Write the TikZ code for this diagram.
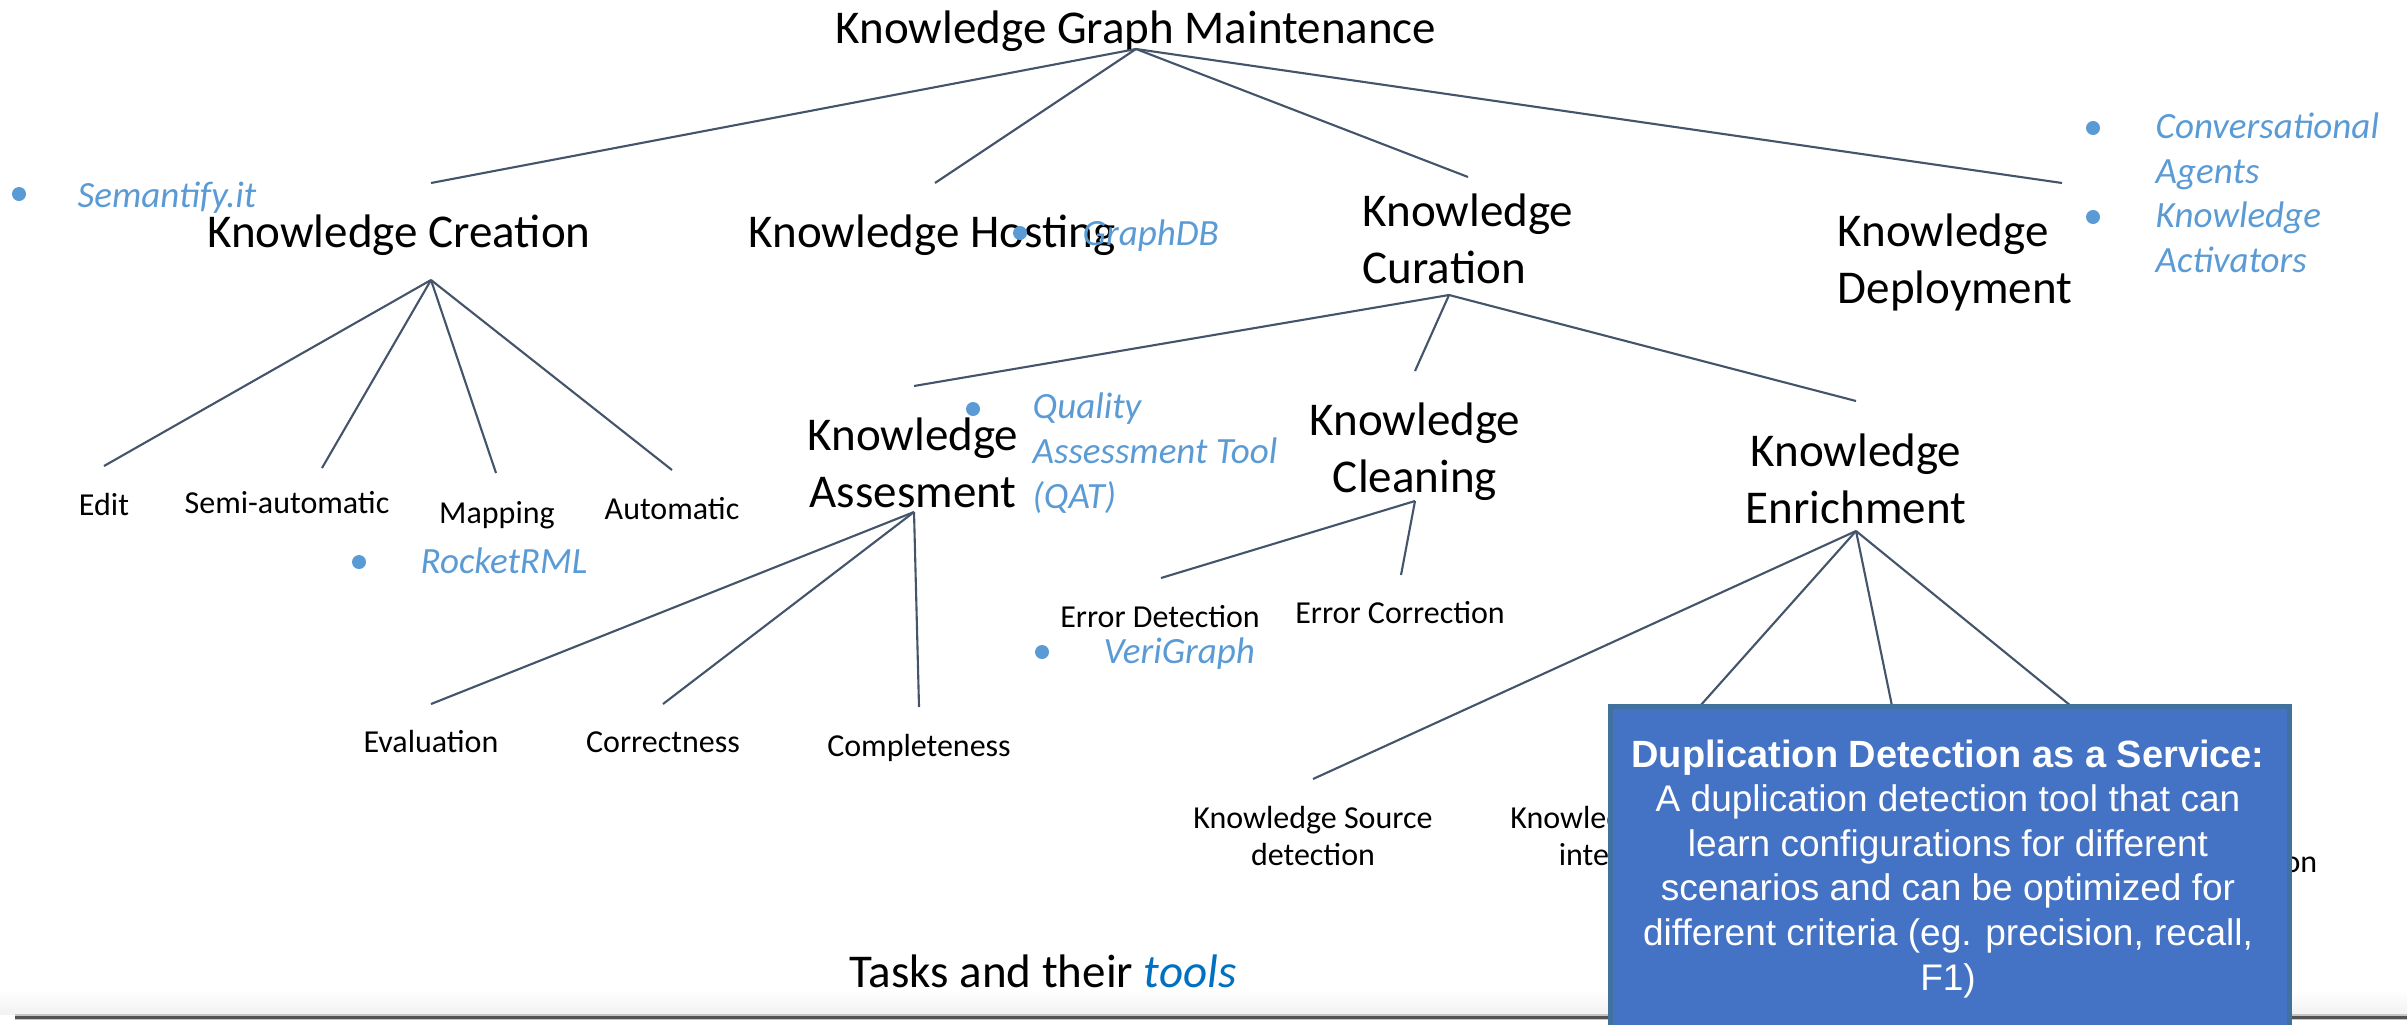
\documentclass[tikz,border=0pt]{standalone}
\usepackage{fontspec}
\setmainfont{Carlito}
\newfontfamily\arialf{Liberation Sans}
\definecolor{connc}{HTML}{44546A}
\definecolor{toolblue}{HTML}{5B9BD5}
\definecolor{toolsword}{HTML}{0070C0}
\definecolor{boxfill}{HTML}{4472C4}
\definecolor{boxline}{HTML}{41719C}
\begin{document}
\begin{tikzpicture}[x=0.01cm,y=-0.01cm,
  big/.style={font=\fontsize{13.37}{16.1}\selectfont, inner sep=0pt, anchor=base},
  small/.style={font=\fontsize{9.1}{10.5}\selectfont, inner sep=0pt, anchor=base, align=center},
  tool/.style={font=\fontsize{10.53}{12.66}\selectfont\itshape, text=toolblue, inner sep=0pt, anchor=base west, align=left},
  bullet/.style={circle, fill=toolblue, inner sep=0pt, minimum size=0.14cm},
  conn/.style={draw=connc, line width=0.6pt},
  dupbox/.style={draw=boxline, fill=boxfill, line width=0.05cm, inner sep=0pt, minimum width=6.79cm, minimum height=3.8cm},
  duptext/.style={font=\arialf\fontsize{10.53}{12.66}\selectfont, text=white, inner sep=0pt, anchor=base, align=center}
]
\useasboundingbox (0,0) rectangle (2407,1024);
\clip (0,0) rectangle (2407,1024);

% bottom rule
\shade[top color=white, bottom color=gray!10] (0,990) rectangle (2407,1014);
\draw[line width=0.065cm, gray!45] (15,1017) -- (2407,1017);
\draw[line width=0.03cm, gray!65!black] (15,1017) -- (2407,1017);

% main task nodes (multi-line nodes: base = last line)
\node[big] (root) at (1136,43) {Knowledge Graph Maintenance};
\node[big] (creation) at (399,247) {Knowledge Creation};
\node[big] (hosting) at (932,247) {Knowledge Hosting};
\node[big, anchor=base west, align=left] (curation) at (1362,283) {Knowledge\\Curation};
\node[big, anchor=base west, align=left] (deployment) at (1837,303) {Knowledge\\Deployment};
\node[big, align=center] (assess) at (913,507) {Knowledge\\Assesment};
\node[big, align=center] (cleaning) at (1415,492) {Knowledge\\Cleaning};
\node[big, align=center] (enrich) at (1856,523) {Knowledge\\Enrichment};

% leaf tasks
\node[small] (edit) at (104,515) {Edit};
\node[small] (semi) at (287,513) {Semi-automatic};
\node[small] (mapping) at (497,523) {Mapping};
\node[small] (automatic) at (672,519) {Automatic};
\node[small] (evaluation) at (431,752) {Evaluation};
\node[small] (correctness) at (663,752) {Correctness};
\node[small] (completeness) at (919,756) {Completeness};
\node[small] (errdet) at (1160,627) {Error Detection};
\node[small] (errcor) at (1400,623) {Error Correction};
\node[small] (ksd) at (1313,865) {Knowledge Source\\detection};
\node[small] (ksi) at (1630,865) {Knowledge Source\\integration};
\node[small, anchor=base east] (valid) at (2318,872) {Validation};

% connection points
\coordinate (root-b) at (1136,49);
\coordinate (creation-t) at (431,183);
\coordinate (hosting-t) at (935,183);
\coordinate (curation-t) at (1468,177);
\coordinate (deployment-t) at (2062,183);
\coordinate (creation-b) at (431,280);
\coordinate (edit-t) at (104,466);
\coordinate (semi-t) at (322,468);
\coordinate (mapping-t) at (496,473);
\coordinate (automatic-t) at (672,470);
\coordinate (curation-b) at (1449,295);
\coordinate (assess-t) at (914,386);
\coordinate (cleaning-t) at (1415,371);
\coordinate (enrich-t) at (1856,401);
\coordinate (assess-b) at (914,512);
\coordinate (evaluation-t) at (431,704);
\coordinate (correctness-t) at (663,704);
\coordinate (completeness-t) at (919,707);
\coordinate (cleaning-b) at (1415,501);
\coordinate (errdet-t) at (1161,578);
\coordinate (errcor-t) at (1401,575);
\coordinate (enrich-b) at (1856,531);
\coordinate (ksd-t) at (1313,779);
\coordinate (e2-t) at (1700,706);
\coordinate (e3-t) at (1892,706);
\coordinate (e4-t) at (2071,706);

\draw[conn] (root-b) -- (creation-t);
\draw[conn] (root-b) -- (hosting-t);
\draw[conn] (root-b) -- (curation-t);
\draw[conn] (root-b) -- (deployment-t);
\draw[conn] (creation-b) -- (edit-t);
\draw[conn] (creation-b) -- (semi-t);
\draw[conn] (creation-b) -- (mapping-t);
\draw[conn] (creation-b) -- (automatic-t);
\draw[conn] (curation-b) -- (assess-t);
\draw[conn] (curation-b) -- (cleaning-t);
\draw[conn] (curation-b) -- (enrich-t);
\draw[conn] (assess-b) -- (evaluation-t);
\draw[conn] (assess-b) -- (correctness-t);
\draw[conn] (assess-b) -- (completeness-t);
\draw[conn] (cleaning-b) -- (errdet-t);
\draw[conn] (cleaning-b) -- (errcor-t);
\draw[conn] (enrich-b) -- (ksd-t);
\draw[conn] (enrich-b) -- (e2-t);
\draw[conn] (enrich-b) -- (e3-t);
\draw[conn] (enrich-b) -- (e4-t);

% tools
\node[bullet] (b1) at (19,194) {};
\node[tool] (semantify) at (77,207) {Semantify.it};
\node[bullet] (b2) at (1020,233) {};
\node[tool] (graphdb) at (1082,245) {GraphDB};
\node[bullet] (b3) at (2093,128) {};
\node[tool] (conv) at (2155,183) {Conversational\\Agents};
\node[bullet] (b4) at (2093,217) {};
\node[tool] (activ) at (2155,272) {Knowledge\\Activators};
\node[bullet] (b5) at (973,409) {};
\node[tool] (qat) at (1032,508) {Quality\\Assessment Tool\\(QAT)};
\node[bullet] (b6) at (359,562) {};
\node[tool] (rocket) at (420,573) {RocketRML};
\node[bullet] (b7) at (1042,652) {};
\node[tool] (veri) at (1103,663) {VeriGraph};

% caption
\node[big] (caption) at (1043,987) {Tasks and their \textcolor{toolsword}{\itshape tools}};

% callout box
\node[dupbox, anchor=north west] (dup) at (1608,704) {};
\node[duptext] (duptxt) at (1948,990) {{\fontsize{10.8}{12.66}\selectfont\bfseries Duplication Detection as a Service:}\\A duplication detection tool that can\\learn configurations for different\\scenarios and can be optimized for\\different criteria (eg. precision, recall,\\F1)};
\end{tikzpicture}
\end{document}
